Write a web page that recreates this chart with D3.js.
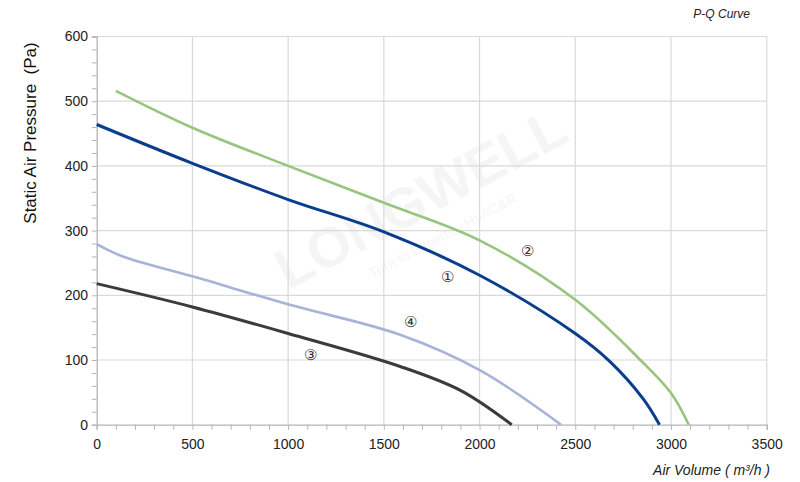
<!DOCTYPE html>
<html><head><meta charset="utf-8">
<script src="https://cdn.jsdelivr.net/npm/d3@7"></script>
<style>body{margin:0;background:#fff}svg{display:block}text{font-family:Arial,"Liberation Sans",sans-serif}</style>
</head><body><svg id="c" width="800" height="482"></svg>
<script>
// Data (Air Volume m³/h, Static Pressure Pa)
const curve1Q = [0, 500, 1000, 1500, 2000, 2500, 2680, 2855, 2940];
const curve1P = [464, 404, 348, 298, 231, 141, 98, 40, 0];
const curve2Q = [100, 500, 1000, 1500, 2000, 2500, 2840, 3000, 3093];
const curve2P = [516, 459, 400, 343, 285, 193, 100, 49, 0];
const curve3Q = [0, 500, 1000, 1585, 1900, 2168];
const curve3P = [218, 182, 141, 90, 53, 0];
const curve4Q = [0, 136, 505, 1000, 1585, 2003, 2426];
const curve4P = [279, 260, 229, 186, 139, 84, 0];
const seriesLabels = ["①", "②", "③", "④"];
const labelQ = [1834, 2250, 1115, 1637];
const labelP = [229, 270, 108, 159];
const xTicks = [0, 500, 1000, 1500, 2000, 2500, 3000, 3500];
const yTicks = [0, 100, 200, 300, 400, 500, 600];
const colors = ["#0a3d8c", "#97c57e", "#3b3b3b", "#a8b3da"];
const widths = [3, 2.6, 3, 2.6];

const svg = d3.select("#c");
const x = d3.scaleLinear().domain([0, 3500]).range([96.7, 766.7]);
const y = d3.scaleLinear().domain([0, 600]).range([424.7, 36.5]);

// faint watermark
const wm = svg.append("g").attr("opacity", 0.035).attr("fill", "#000");
wm.append("text").attr("transform", "translate(430,215) rotate(-28)")
  .attr("text-anchor", "middle").attr("font-family", "'DejaVu Serif',serif")
  .attr("font-size", 56).attr("font-weight", "bold").text("LONGWELL");
wm.append("text").attr("transform", "translate(445,240) rotate(-28)")
  .attr("text-anchor", "middle").attr("font-size", 14).text("Turn to Experts - HVAC&R");

// grid
const g = svg.append("g");
g.selectAll(".gx").data(xTicks.slice(1)).join("line")
  .attr("x1", d => x(d)).attr("x2", d => x(d)).attr("y1", y(600)).attr("y2", y(0))
  .attr("stroke", "#d9d9d9").attr("stroke-width", 1.2);
g.selectAll(".gy").data(yTicks.slice(1)).join("line")
  .attr("x1", x(0)).attr("x2", x(3500)).attr("y1", d => y(d)).attr("y2", d => y(d))
  .attr("stroke", "#d9d9d9").attr("stroke-width", 1.2);

// axes
const xAxis = d3.axisBottom(x).tickValues(d3.range(0, 3501, 100)).tickSize(5)
  .tickFormat(d => xTicks.includes(d) ? d : "");
const yAxis = d3.axisLeft(y).tickValues(d3.range(0, 601, 20)).tickSize(5)
  .tickFormat(d => yTicks.includes(d) ? d : "");
const gx = svg.append("g").attr("transform", `translate(0,${y(0)})`).call(xAxis);
const gy = svg.append("g").attr("transform", `translate(${x(0)},0)`).call(yAxis);
[gx, gy].forEach(a => {
  a.select(".domain").attr("stroke", "#b5b5b5").attr("stroke-width", 1.3);
  a.selectAll(".tick line").attr("stroke", "#b5b5b5");
  a.selectAll(".tick text").attr("fill", "#222").attr("font-size", 14)
    .attr("font-family", "Arial,'Liberation Sans',sans-serif");
});
gx.selectAll(".tick text").attr("dy", "1.15em");
gy.selectAll(".tick text").attr("dx", "-0.05em");

// curves
const data = [[curve1Q, curve1P], [curve2Q, curve2P], [curve3Q, curve3P], [curve4Q, curve4P]];
const line = d3.line().x(d => x(d[0])).y(d => y(d[1])).curve(d3.curveCatmullRom.alpha(0.5));
[3, 2, 1, 0].forEach(i => {
  const pts = data[i][0].map((q, k) => [q, data[i][1][k]]);
  svg.append("path").attr("d", line(pts)).attr("fill", "none")
    .attr("stroke", colors[i]).attr("stroke-width", widths[i]).attr("stroke-linejoin", "round");
});

// curve labels
svg.selectAll(".lbl").data(seriesLabels).join("text")
  .attr("x", (d, i) => x(labelQ[i])).attr("y", (d, i) => y(labelP[i]))
  .attr("text-anchor", "middle").attr("dominant-baseline", "central")
  .attr("font-size", 15).attr("fill", "#333")
  .attr("font-family", "'DejaVu Sans',sans-serif").text(d => d);

// titles
svg.append("text").attr("transform", "translate(36,133) rotate(-90)")
  .attr("text-anchor", "middle").attr("font-size", 17).attr("fill", "#111")
  .attr("xml:space", "preserve").text("Static Air Pressure  (Pa)");
svg.append("text").attr("x", 770).attr("y", 475).attr("text-anchor", "end")
  .attr("font-size", 14).attr("font-style", "italic").attr("fill", "#222")
  .text("Air Volume ( m³/h )");
svg.append("text").attr("x", 750).attr("y", 18).attr("text-anchor", "end")
  .attr("font-size", 12).attr("font-style", "italic").attr("fill", "#222")
  .text("P-Q Curve");
</script></body></html>
